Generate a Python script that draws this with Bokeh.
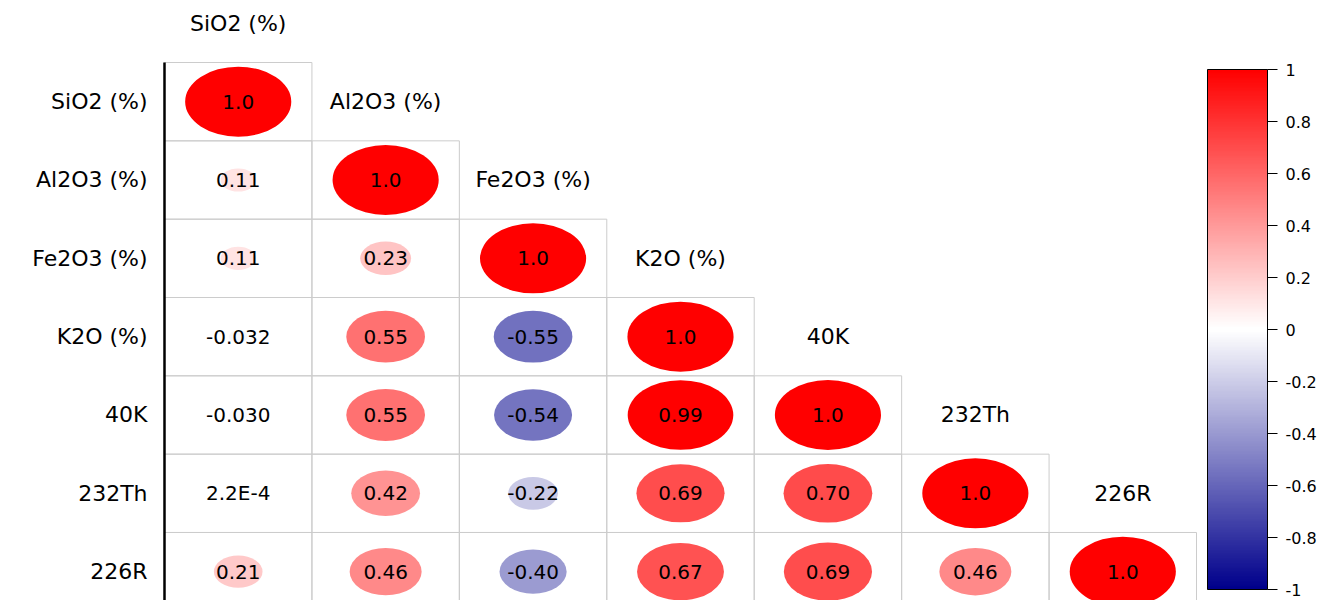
import math
from bokeh.plotting import figure
from bokeh.models import (ColumnDataSource, Range1d, ColorBar, LinearColorMapper,
                          FixedTicker)
from bokeh.core.properties import value
from bokeh.embed import file_html
from bokeh.resources import INLINE

# ---------------- data ----------------
variables = ["SiO2 (%)", "Al2O3 (%)", "Fe2O3 (%)", "K2O (%)", "40K", "232Th", "226R"]

corr_values = [
    [1.0],
    [0.11, 1.0],
    [0.11, 0.23, 1.0],
    [-0.032, 0.55, -0.55, 1.0],
    [-0.030, 0.55, -0.54, 0.99, 1.0],
    [2.2e-4, 0.42, -0.22, 0.69, 0.70, 1.0],
    [0.21, 0.46, -0.40, 0.67, 0.69, 0.46, 1.0],
]

corr_labels = [
    ["1.0"],
    ["0.11", "1.0"],
    ["0.11", "0.23", "1.0"],
    ["-0.032", "0.55", "-0.55", "1.0"],
    ["-0.030", "0.55", "-0.54", "0.99", "1.0"],
    ["2.2E-4", "0.42", "-0.22", "0.69", "0.70", "1.0"],
    ["0.21", "0.46", "-0.40", "0.67", "0.69", "0.46", "1.0"],
]

colorbar_ticks = [-1, -0.8, -0.6, -0.4, -0.2, 0, 0.2, 0.4, 0.6, 0.8, 1]
colorbar_tick_labels = ["-1", "-0.8", "-0.6", "-0.4", "-0.2", "0", "0.2", "0.4", "0.6", "0.8", "1"]

# ---------------- palette (darkblue -> white -> red) ----------------
def _hex(c):
    return "#%02x%02x%02x" % tuple(int(round(v)) for v in c)

low_c = (0, 0, 139)
mid_c = (255, 255, 255)
high_c = (255, 0, 0)
palette = []
n_half = 100
for k in range(n_half):
    t = k / (n_half - 1)
    palette.append(_hex([low_c[i] + (mid_c[i] - low_c[i]) * t for i in range(3)]))
for k in range(n_half):
    t = k / (n_half - 1)
    palette.append(_hex([mid_c[i] + (high_c[i] - mid_c[i]) * t for i in range(3)]))

# ---------------- build sources ----------------
xs, ys, rs, labs, ws, hs = [], [], [], [], [], []
for i, row in enumerate(corr_values):
    for j, r in enumerate(row):
        xs.append(j)
        ys.append(i)
        rs.append(r)
        labs.append(corr_labels[i][j])
        ws.append(0.72 * math.sqrt(abs(r)))
        hs.append(0.894 * math.sqrt(abs(r)))

cells = ColumnDataSource(dict(x=xs, y=ys, r=rs, lab=labs, w=ws, h=hs))

row_lab = ColumnDataSource(dict(x=[-0.615] * len(variables),
                                y=list(range(len(variables))),
                                t=variables))
col_lab = ColumnDataSource(dict(x=list(range(len(variables))),
                                y=[k - 1 for k in range(len(variables))],
                                t=variables))

# ---------------- figure ----------------
p = figure(width=1326, height=600, output_backend="svg", toolbar_location=None,
           x_range=Range1d(-1.6124, 7.3818), y_range=Range1d(6.3684, -1.2915),
           min_border=0)
p.axis.visible = False
p.grid.visible = False
p.outline_line_color = None
p.background_fill_color = "white"
p.border_fill_color = "white"

# cell borders
p.rect(x="x", y="y", width=1, height=1, source=cells, fill_color=None,
       line_color="#cccccc", line_width=1)

# circles
mapper = LinearColorMapper(palette=palette, low=-1, high=1)
p.ellipse(x="x", y="y", width="w", height="h", source=cells,
          fill_color={"field": "r", "transform": mapper}, line_color=None)

# values
p.text(x="x", y="y", text="lab", source=cells, text_align="center",
       text_baseline="middle", text_font=value("DejaVu Sans"),
       text_font_size="20px", text_color="black")

# left black axis line
p.segment(x0=[-0.5], y0=[-0.5], x1=[-0.5], y1=[6.5], line_color="black",
          line_width=2.5)

# row labels
p.text(x="x", y="y", text="t", source=row_lab, text_align="right",
       text_baseline="middle", text_font=value("DejaVu Sans"),
       text_font_size="22px", text_color="black")

# column labels
p.text(x="x", y="y", text="t", source=col_lab, text_align="center",
       text_baseline="middle", text_font=value("DejaVu Sans"),
       text_font_size="22px", text_color="black")

# color bar
cb = ColorBar(color_mapper=mapper, location=(1207, 11), width=60, height=520,
              padding=0, margin=0,
              ticker=FixedTicker(ticks=colorbar_ticks),
              major_label_overrides={t: l for t, l in zip(colorbar_ticks, colorbar_tick_labels)},
              major_label_text_font="DejaVu Sans",
              major_label_text_font_size="16px",
              major_label_text_color="black",
              major_tick_out=10, major_tick_in=0,
              major_tick_line_color="black", major_tick_line_width=1,
              minor_tick_line_color=None,
              bar_line_color="black", bar_line_width=1,
              border_line_color=None, background_fill_color=None,
              label_standoff=8)
p.add_layout(cb, "center")

open("out.html", "w").write(file_html(p, INLINE))
